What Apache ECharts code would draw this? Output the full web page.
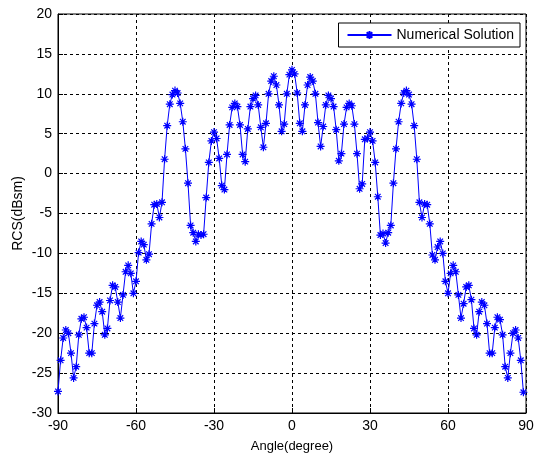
<!DOCTYPE html>
<html>
<head>
<meta charset="utf-8">
<script src="https://cdn.jsdelivr.net/npm/echarts@6/dist/echarts.min.js"></script>
<style>
html,body{margin:0;padding:0;background:#fff;}
#chart{width:542px;height:459px;}
</style>
</head>
<body>
<div id="chart"></div>
<script>
const angles = [-90,-89,-88,-87,-86,-85,-84,-83,-82,-81,-80,-79,-78,-77,-76,-75,-74,-73,-72,-71,-70,-69,-68,-67,-66,-65,-64,-63,-62,-61,-60,-59,-58,-57,-56,-55,-54,-53,-52,-51,-50,-49,-48,-47,-46,-45,-44,-43,-42,-41,-40,-39,-38,-37,-36,-35,-34,-33,-32,-31,-30,-29,-28,-27,-26,-25,-24,-23,-22,-21,-20,-19,-18,-17,-16,-15,-14,-13,-12,-11,-10,-9,-8,-7,-6,-5,-4,-3,-2,-1,0,1,2,3,4,5,6,7,8,9,10,11,12,13,14,15,16,17,18,19,20,21,22,23,24,25,26,27,28,29,30,31,32,33,34,35,36,37,38,39,40,41,42,43,44,45,46,47,48,49,50,51,52,53,54,55,56,57,58,59,60,61,62,63,64,65,66,67,68,69,70,71,72,73,74,75,76,77,78,79,80,81,82,83,84,85,86,87,88,89,90];
const rcs = [
 -27.3,-23.4,-20.6,-19.6,-20.0,-22.5,-25.6,-24.2,-20.2,-18.2,
 -18.0,-19.3,-22.5,-22.5,-18.8,-16.5,-16.1,-17.3,-20.2,-19.4,
 -15.9,-14.0,-14.2,-16.1,-18.1,-15.2,-12.3,-11.5,-12.5,-15.0,
 -13.5,-9.9,-8.5,-8.9,-10.8,-10.1,-6.3,-3.9,-3.8,-5.5,
 -3.6,1.8,6.0,8.7,9.9,10.4,10.1,8.8,6.5,3.1,
 -1.2,-6.5,-7.4,-8.5,-7.6,-7.7,-7.6,-3.0,1.4,4.1,
 5.2,4.4,1.9,-1.5,-2.0,2.4,6.1,8.3,8.8,8.4,
 6.1,2.4,1.5,5.6,8.4,9.4,9.8,8.6,5.8,3.3,
 6.3,10.0,11.6,12.2,11.1,8.6,5.3,6.2,10.0,12.4,
 13.0,
 12.5,10.1,6.3,5.3,8.6,11.1,12.1,11.6,10.0,6.4,
 3.4,5.9,8.6,9.8,9.4,8.4,5.5,1.6,2.5,6.2,
 8.3,8.8,8.5,6.2,2.5,-1.9,-1.3,4.3,4.4,5.2,
 4.1,1.4,-2.9,-7.7,-7.5,-8.7,-7.4,-6.5,-1.2,3.1,
 6.5,8.8,10.1,10.4,9.9,8.7,6.0,1.8,-3.6,-5.5,
 -3.8,-3.9,-6.3,-10.2,-10.8,-9.2,-8.5,-10.0,-13.5,-15.0,
 -12.5,-11.5,-12.3,-15.2,-18.1,-16.3,-14.2,-14.0,-15.8,-19.4,
 -20.2,-17.3,-16.1,-16.5,-18.8,-22.5,-22.5,-19.3,-18.0,-18.3,
 -20.2,-24.2,-25.6,-22.5,-20.0,-19.6,-20.6,-23.4,-27.4
];
const seriesName = 'Numerical Solution';
const xTitle = 'Angle(degree)';
const yTitle = 'RCS(dBsm)';

const data = angles.map((a, i) => [a, rcs[i]]);
const star = 'path://M0,-10L0,10M-10,0L10,0M-7,-7L7,7M-7,7L7,-7';
const font = 'Arial, "Liberation Sans", sans-serif';

const chart = echarts.init(document.getElementById('chart'), null, {renderer: 'canvas'});
chart.setOption({
  animation: false,
  backgroundColor: '#fff',
  grid: {left: 58, right: 16, top: 14, bottom: 46, show: true, borderColor: '#000', borderWidth: 1, containLabel: false},
  legend: {
    right: 22, top: 23,
    data: [seriesName],
    backgroundColor: '#fff',
    borderColor: '#000', borderWidth: 1,
    padding: [5, 6, 5, 8],
    itemWidth: 44, itemHeight: 10, itemGap: 4,
    textStyle: {fontFamily: font, fontSize: 14, color: '#000'}
  },
  xAxis: {
    type: 'value', min: -90, max: 90, interval: 30,
    name: xTitle, nameLocation: 'middle', nameGap: 27, nameMoveOverlap: false,
    nameTextStyle: {fontFamily: font, fontSize: 13, color: '#000'},
    axisLine: {show: true, onZero: false, lineStyle: {color: '#000', width: 1}},
    axisTick: {show: true, inside: true, length: 5, lineStyle: {color: '#000'}},
    axisLabel: {fontFamily: font, fontSize: 14, color: '#000', margin: 6},
    splitLine: {show: true, lineStyle: {color: '#000', type: [3, 3], width: 1}}
  },
  yAxis: {
    type: 'value', min: -30, max: 20, interval: 5,
    name: yTitle, nameLocation: 'middle', nameGap: 33, nameRotate: 90, nameMoveOverlap: false,
    nameTextStyle: {fontFamily: font, fontSize: 14, color: '#000'},
    axisLine: {show: true, onZero: false, lineStyle: {color: '#000', width: 1}},
    axisTick: {show: true, inside: true, length: 5, lineStyle: {color: '#000'}},
    axisLabel: {fontFamily: font, fontSize: 14, color: '#000', margin: 6},
    splitLine: {show: true, lineStyle: {color: '#000', type: [3, 3], width: 1}}
  },
  series: [{
    name: seriesName,
    type: 'line',
    data: data,
    symbol: star,
    symbolSize: 8,
    showAllSymbol: true,
    lineStyle: {color: '#0000ff', width: 1},
    itemStyle: {color: '#0000ff', borderColor: '#0000ff', borderWidth: 1.2}
  }]
});
</script>
</body>
</html>
